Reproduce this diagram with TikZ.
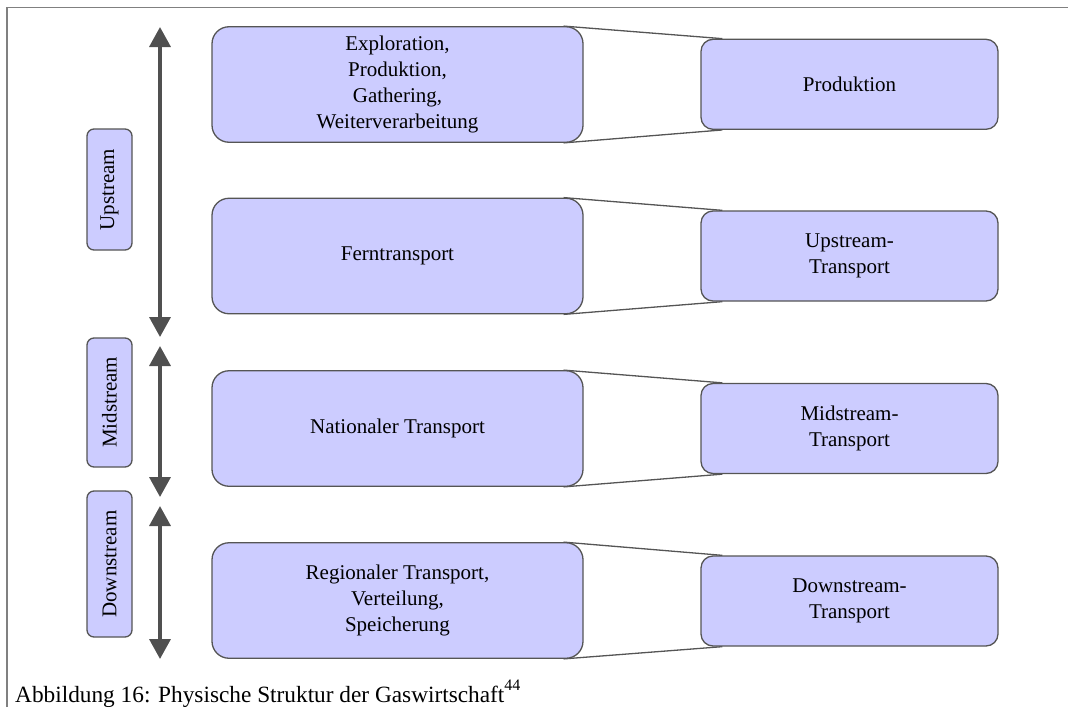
\documentclass[tikz,border=0pt]{standalone}
\usepackage{fontspec}
\setmainfont{Liberation Serif}
\usetikzlibrary{arrows.meta,backgrounds}
\definecolor{boxfill}{HTML}{CCCCFF}
\definecolor{boxline}{HTML}{555555}
\definecolor{arrowgray}{HTML}{505050}
\definecolor{framegray}{HTML}{808080}
\begin{document}
\begin{tikzpicture}[x=1pt,y=-1pt,
  every node/.style={font=\fontsize{21}{26}\selectfont, align=center, inner sep=0pt},
  stage/.style={draw=boxline, fill=boxfill, line width=1.3pt, rounded corners=17pt,
                minimum width=371pt, minimum height=115.5pt},
  part/.style={draw=boxline, fill=boxfill, line width=1.3pt, rounded corners=12pt,
               minimum width=297pt, minimum height=90pt},
  tag/.style={draw=boxline, fill=boxfill, line width=1.3pt, rounded corners=7pt,
              rotate=90, minimum height=45pt},
  span/.style={draw=arrowgray, line width=3.5pt,
               {Triangle[length=20pt,width=21pt]}-{Triangle[length=20pt,width=21pt]}},
  link/.style={draw=boxline, line width=1.3pt},
  frameline/.style={draw=framegray, line width=1.4pt}
]
\useasboundingbox (0,0) rectangle (1068,707);

% open frame: top and left edge
\draw[frameline] (7,707) -- (7,7.5) -- (1068,7.5);

% value chain stages
\node[stage] (L1) at (397.5,84.5) {Exploration,\\Produktion,\\Gathering,\\Weiterverarbeitung};
\node[stage] (L2) at (397.5,256)  {Ferntransport};
\node[stage] (L3) at (397.5,428.5) {Nationaler Transport};
\node[stage] (L4) at (397.5,600.5) {Regionaler Transport,\\Verteilung,\\Speicherung};

% grouped segments
\node[part] (R1) at (849.5,84.3)  {Produktion};
\node[part] (R2) at (849.5,256)   {Upstream-\\Transport};
\node[part] (R3) at (849.5,428.5) {Midstream-\\Transport};
\node[part] (R4) at (849.5,601)   {Downstream-\\Transport};

% funnel lines between stage and segment
\begin{scope}[on background layer]
  \foreach \i in {1,...,4}{
    \draw[link] ([xshift=-20pt]L\i.north east) -- ([xshift=22pt]R\i.north west);
    \draw[link] ([xshift=-20pt]L\i.south east) -- ([xshift=22pt]R\i.south west);
  }
\end{scope}

% stream labels
\node[tag, minimum width=121pt] (up)   at (109.5,189.5) {Upstream};
\node[tag, minimum width=129pt] (mid)  at (109.5,402.5) {Midstream};
\node[tag, minimum width=146pt] (down) at (109.5,564)   {Downstream};

% range arrows
\coordinate (a1) at (160,27);
\coordinate (b1) at (160,337);
\coordinate (a2) at (160,346);
\coordinate (b2) at (160,497);
\coordinate (a3) at (160,506);
\coordinate (b3) at (160,659);
\draw[span] (a1) -- (b1);
\draw[span] (a2) -- (b2);
\draw[span] (a3) -- (b3);

% caption
\node[anchor=base west, font=\fontsize{23.3}{28}\selectfont] (cap) at (15,702.5)
  {Abbildung 16: Physische Struktur der Gaswirtschaft\raisebox{12pt}{\fontsize{16}{16}\selectfont 44}};
\end{tikzpicture}
\end{document}
